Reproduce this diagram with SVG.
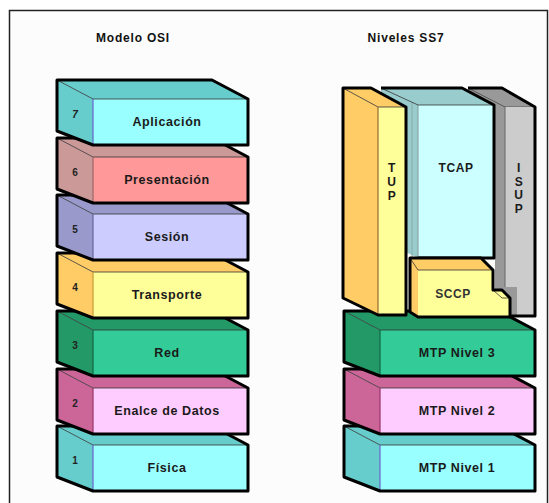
<svg xmlns="http://www.w3.org/2000/svg" width="549" height="503" viewBox="0 0 549 503">
<style>
.ol{fill:none;stroke:#000;stroke-width:3;stroke-linejoin:round}
.ed{fill:none;stroke:#333;stroke-width:0.8}
.lbl{font-family:"Liberation Sans",Arial,sans-serif;font-weight:bold;font-size:12.5px;letter-spacing:0.6px;fill:#1a1a1a;text-anchor:middle}
.num{font-family:"Liberation Sans",Arial,sans-serif;font-weight:bold;font-size:10px;fill:#222;text-anchor:middle}
.ttl{font-family:"Liberation Sans",Arial,sans-serif;font-weight:bold;font-size:12px;letter-spacing:0.8px;fill:#111;text-anchor:middle}
</style>
<defs>
<path id="top" d="M-36,-19 H119 L155,0 H0 Z"/>
<path id="side" d="M-36,-19 L0,0 V46 L-36,32 Z"/>
<path id="out" d="M-36,-19 H119 L155,0 V46 H0 L-36,32 Z"/>
</defs>
<rect x="9.5" y="10.5" width="538" height="500" fill="#fcfcfc" stroke="#222" stroke-width="1.5"/>
<text class="ttl" x="133" y="42">Modelo OSI</text>
<text class="ttl" x="406" y="42">Niveles SS7</text>

<g id="osi1" transform="translate(93,445)">
<use href="#top" fill="#66cccc"/><use href="#side" fill="#66cccc"/>
<rect x="0" y="0" width="155" height="46" fill="#99ffff"/>
<use href="#top" class="ed"/><line x1="0" y1="0" x2="0" y2="46" stroke="#6666cc" stroke-width="1.2"/>
<use href="#out" class="ol"/>
<text class="num" x="-18" y="19">1</text><text class="lbl" x="74" y="27">Física</text>
</g>
<g id="osi2" transform="translate(93,388)">
<use href="#top" fill="#cc6699"/><use href="#side" fill="#cc6699"/>
<rect x="0" y="0" width="155" height="46" fill="#ffccff"/>
<use href="#top" class="ed"/><line x1="0" y1="0" x2="0" y2="46" stroke="#993366" stroke-width="1.2"/>
<use href="#out" class="ol"/>
<text class="num" x="-18" y="19">2</text><text class="lbl" x="74" y="27">Enalce de Datos</text>
</g>
<g id="osi3" transform="translate(93,330)">
<use href="#top" fill="#229966"/><use href="#side" fill="#229966"/>
<rect x="0" y="0" width="155" height="46" fill="#33cc99"/>
<use href="#top" class="ed"/><line x1="0" y1="0" x2="0" y2="46" stroke="#116644" stroke-width="1.2"/>
<use href="#out" class="ol"/>
<text class="num" x="-18" y="19">3</text><text class="lbl" x="74" y="27">Red</text>
</g>
<g id="osi4" transform="translate(93,272)">
<use href="#top" fill="#ffcc66"/><use href="#side" fill="#ffcc66"/>
<rect x="0" y="0" width="155" height="46" fill="#ffff99"/>
<use href="#top" class="ed"/><line x1="0" y1="0" x2="0" y2="46" stroke="#cc9933" stroke-width="1.2"/>
<use href="#out" class="ol"/>
<text class="num" x="-18" y="19">4</text><text class="lbl" x="74" y="27">Transporte</text>
</g>
<g id="osi5" transform="translate(93,214)">
<use href="#top" fill="#9999cc"/><use href="#side" fill="#9999cc"/>
<rect x="0" y="0" width="155" height="46" fill="#ccccff"/>
<use href="#top" class="ed"/><line x1="0" y1="0" x2="0" y2="46" stroke="#666699" stroke-width="1.2"/>
<use href="#out" class="ol"/>
<text class="num" x="-18" y="19">5</text><text class="lbl" x="74" y="27">Sesión</text>
</g>
<g id="osi6" transform="translate(93,157)">
<use href="#top" fill="#cc9999"/><use href="#side" fill="#cc9999"/>
<rect x="0" y="0" width="155" height="46" fill="#ff9999"/>
<use href="#top" class="ed"/><line x1="0" y1="0" x2="0" y2="46" stroke="#996666" stroke-width="1.2"/>
<use href="#out" class="ol"/>
<text class="num" x="-18" y="19">6</text><text class="lbl" x="74" y="27">Presentación</text>
</g>
<g id="osi7" transform="translate(93,99)">
<use href="#top" fill="#66cccc"/><use href="#side" fill="#66cccc"/>
<rect x="0" y="0" width="155" height="46" fill="#99ffff"/>
<use href="#top" class="ed"/><line x1="0" y1="0" x2="0" y2="46" stroke="#6666cc" stroke-width="1.2"/>
<use href="#out" class="ol"/>
<text class="num" x="-18" y="19" font-style="italic">7</text><text class="lbl" x="74" y="27">Aplicación</text>
</g>

<g id="mtp1" transform="translate(380,445)">
<use href="#top" fill="#66cccc"/><use href="#side" fill="#66cccc"/>
<rect x="0" y="0" width="155" height="46" fill="#99ffff"/>
<use href="#top" class="ed"/><line x1="0" y1="0" x2="0" y2="46" stroke="#6666cc" stroke-width="1.2"/>
<use href="#out" class="ol"/>
<text class="lbl" x="77" y="27">MTP Nivel 1</text>
</g>
<g id="mtp2" transform="translate(380,388)">
<use href="#top" fill="#cc6699"/><use href="#side" fill="#cc6699"/>
<rect x="0" y="0" width="155" height="46" fill="#ffccff"/>
<use href="#top" class="ed"/><line x1="0" y1="0" x2="0" y2="46" stroke="#993366" stroke-width="1.2"/>
<use href="#out" class="ol"/>
<text class="lbl" x="77" y="27">MTP Nivel 2</text>
</g>
<g id="mtp3" transform="translate(380,330)">
<use href="#top" fill="#229966"/><use href="#side" fill="#229966"/>
<rect x="0" y="0" width="155" height="46" fill="#33cc99"/>
<use href="#top" class="ed"/><line x1="0" y1="0" x2="0" y2="46" stroke="#116644" stroke-width="1.2"/>
<use href="#out" class="ol"/>
<text class="lbl" x="77" y="27">MTP Nivel 3</text>
</g>

<g id="isup">
<path d="M468,88 H502 L535,107 V316 H505 L495,310 V258 L480,250 Z" fill="#999999"/>
<path d="M468,88 H502 L535,107 H505 Z" fill="#999999" stroke="#444" stroke-width="0.8"/>
<path d="M505,107 H535 V316 H517 V287 H505 Z" fill="#cccccc"/>
<line x1="505" y1="107" x2="505" y2="287" stroke="#666" stroke-width="1"/>
<path d="M468,88 H502 L535,107 V316 H505" class="ol"/>
<g class="lbl" style="font-size:12px"><text x="519" y="172">I</text><text x="519" y="186">S</text><text x="519" y="199">U</text><text x="519" y="213">P</text></g>
</g>
<g id="tcap">
<path d="M381,88 H462 L494,105 V258 H418 L381,240 Z" fill="#99cccc"/>
<rect x="418" y="105" width="76" height="153" fill="#ccffff"/>
<line x1="412" y1="102" x2="412" y2="258" stroke="#88aaaa" stroke-width="1"/>
<line x1="418" y1="105" x2="418" y2="258" stroke="#889999" stroke-width="1"/>
<path d="M381,88 L418,105 H494" class="ed"/>
<path d="M381,88 H462 L494,105 V258 H418" class="ol"/>
<text class="lbl" x="456" y="172" style="font-size:12px">TCAP</text>
</g>
<g id="sccp">
<path d="M410,258 H481 L493,270 V290 H502 L510,298 V317 H418 L410,312 Z" fill="#ffcc66"/>
<path d="M418,270 H493 V290 H502 L510,298 V317 H418 Z" fill="#ffff99"/>
<path d="M410,258 L418,270 H493 M493,290 L502,298 H510" class="ed"/>
<path d="M410,258 H481 L493,270 V290 H502 L510,298 V317 H418 L410,312 Z" class="ol"/>
<text class="lbl" x="453" y="298" style="font-size:12px;fill:#333">SCCP</text>
</g>
<g id="tup">
<path d="M343,88 H371 L406,107 H378 Z" fill="#ffcc66"/>
<path d="M343,88 L378,107 V315 L343,298 Z" fill="#ffcc66"/>
<rect x="378" y="107" width="28" height="208" fill="#ffff99"/>
<path d="M343,88 L378,107 H406" class="ed"/>
<line x1="378" y1="107" x2="378" y2="315" stroke="#996633" stroke-width="1.2"/>
<path d="M343,88 H371 L406,107 V315 H378 L343,298 Z" class="ol"/>
<g class="lbl" style="font-size:12px"><text x="392" y="172">T</text><text x="392" y="186">U</text><text x="392" y="200">P</text></g>
</g>
</svg>
